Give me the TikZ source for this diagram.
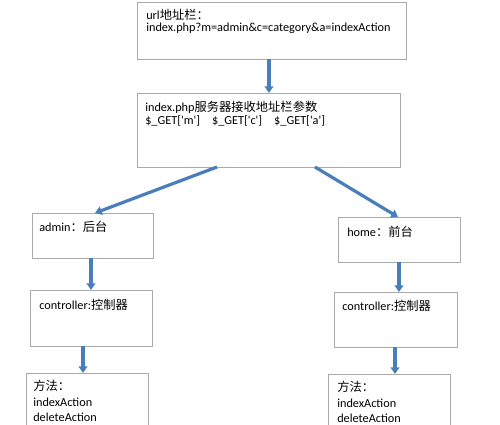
\documentclass[tikz,border=0pt]{standalone}
\usepackage{fontspec}
\setmainfont{Carlito}
\newfontfamily\cjk{Noto Sans CJK SC}
\usetikzlibrary{positioning, arrows.meta}
\definecolor{arrowblue}{RGB}{74,126,187}
\definecolor{boxgray}{RGB}{170,170,170}

\begin{document}
\begin{tikzpicture}[
    x=0.75pt, y=-0.75pt,
    box/.style={draw=boxgray, line width=0.75pt, inner sep=0pt, outer sep=0pt},
    txt/.style={inner sep=0pt, align=left, font=\fontsize{9.2}{8.8}\selectfont},
    flow/.style={draw=arrowblue, line width=2.4pt, -{Triangle[width=6.5pt,length=5pt]}},
  ]
  \clip (0,0) rectangle (500,425);

  % boxes
  \node[box, minimum width=201.75pt, minimum height=42.75pt] (url) at (271.5,30.5) {};
  \node[box, minimum width=197.25pt, minimum height=55.5pt] (srv) at (268.5,130) {};
  \node[box, minimum width=90.75pt, minimum height=33.75pt] (admin) at (92.5,235.5) {};
  \node[box, minimum width=91.5pt, minimum height=33.75pt] (home) at (399,239.5) {};
  \node[box, minimum width=91.5pt, minimum height=42pt] (ctrlA) at (91,318) {};
  \node[box, minimum width=92.25pt, minimum height=41.25pt] (ctrlH) at (395.5,319.5) {};
  \node[box, minimum width=91.5pt, minimum height=50.25pt] (actA) at (87,406.5) {};
  \node[box, minimum width=91.5pt, minimum height=49.5pt] (actH) at (389,407) {};

  % texts
  \node[txt, below right=5.25pt and 6.75pt of url.north west] (urlt)
    {url{\cjk 地址栏：}\\index.php?m=admin\&c=category\&a=indexAction};
  \node[txt, font=\fontsize{9.2}{9.75}\selectfont, below right=6pt and 6pt of srv.north west] (srvt)
    {index.php{\cjk 服务器接收地址栏参数}\\
     \$\_GET[\textquotesingle m\textquotesingle]\hspace{9pt}\$\_GET[\textquotesingle c\textquotesingle]\hspace{9pt}\$\_GET[\textquotesingle a\textquotesingle]};
  \node[txt, below right=6pt and 5.25pt of admin.north west] (admint) {admin{\cjk ：后台}};
  \node[txt, below right=6.75pt and 6.75pt of home.north west] (homet) {home{\cjk ：前台}};
  \node[txt, below right=6.75pt and 6.75pt of ctrlA.north west] (ctrlAt) {controller:{\cjk 控制器}};
  \node[txt, below right=6pt and 6pt of ctrlH.north west] (ctrlHt) {controller:{\cjk 控制器}};
  \node[txt, font=\fontsize{9.2}{11.6}\selectfont, below right=5.25pt and 5.25pt of actA.north west] (actAt)
    {{\cjk 方法：}\\indexAction\\deleteAction};
  \node[txt, font=\fontsize{9.2}{11.6}\selectfont, below right=5.25pt and 6.75pt of actH.north west] (actHt)
    {{\cjk 方法：}\\indexAction\\deleteAction};

  % arrows
  \draw[flow] (269,0 |- url.south) -- (269,0 |- srv.north);
  \draw[flow] (217,0 |- srv.south) -- (95,0 |- admin.north);
  \draw[flow] (315,0 |- srv.south) -- (398,0 |- home.north);
  \draw[flow] (91,0 |- admin.south) -- (91,0 |- ctrlA.north);
  \draw[flow] (399,0 |- home.south) -- (399,0 |- ctrlH.north);
  \draw[flow] (83,0 |- ctrlA.south) -- (83,0 |- actA.north);
  \draw[flow] (395,0 |- ctrlH.south) -- (395,0 |- actH.north);
\end{tikzpicture}
\end{document}
